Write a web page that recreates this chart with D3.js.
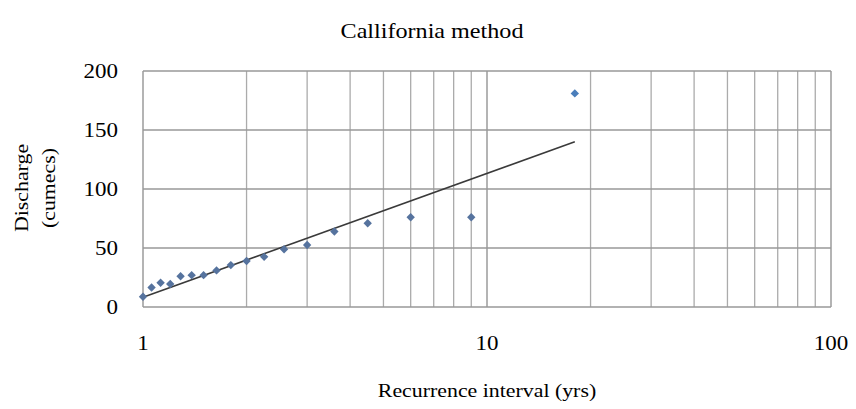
<!DOCTYPE html>
<html>
<head>
<meta charset="utf-8">
<script src="https://cdn.jsdelivr.net/npm/d3@7"></script>
<style>
  body { margin: 0; background: #fff; }
  svg text { font-family: "Liberation Serif", "Times New Roman", serif; fill: #000; }
</style>
</head>
<body>
<svg id="chart" width="856" height="409"></svg>
<script>
// recurrence interval T = n/m (California method), n = 18
const recurrence = [18, 9, 6, 4.5, 3.6, 3, 2.571, 2.25, 2, 1.8, 1.636, 1.5, 1.385, 1.286, 1.2, 1.125, 1.059, 1];
const discharge  = [181, 76, 76, 71, 64, 52.5, 49, 42.5, 39, 35.5, 31, 27, 27, 26, 19.5, 20.5, 16.5, 8.7];

// log trendline end points
const trendX = [1, 18];
const trendY = [8.2, 140];

const xTicks = [1, 10, 100];
const yTicks = [0, 50, 100, 150, 200];

const svg = d3.select("#chart");
const plotLeft = 143, plotRight = 831, plotTop = 71, plotBottom = 307;

const x = d3.scaleLog().domain([1, 100]).range([plotLeft, plotRight]);
const y = d3.scaleLinear().domain([0, 200]).range([plotBottom, plotTop]);

// stretched serif text, like the original export
function label(txt, px, py, size, anchor, rotate) {
	const t = svg.append("text")
		.attr("transform", "translate(" + px + "," + py + ")" + (rotate ? " rotate(" + rotate + ")" : "") + " scale(1.15,1)")
		.attr("text-anchor", anchor)
		.attr("font-size", size)
		.text(txt);
	return t;
}

// vertical grid (log minor ticks)
svg.append("g").selectAll("line")
	.data(x.ticks())
	.enter().append("line")
	.attr("x1", d => x(d)).attr("x2", d => x(d))
	.attr("y1", plotTop).attr("y2", plotBottom)
	.attr("stroke", d => xTicks.includes(d) ? "#8c8c8c" : "#ababab")
	.attr("stroke-width", 1.3);

// horizontal grid
svg.append("g").selectAll("line")
	.data(yTicks)
	.enter().append("line")
	.attr("x1", plotLeft).attr("x2", plotRight)
	.attr("y1", d => y(d)).attr("y2", d => y(d))
	.attr("stroke", "#999")
	.attr("stroke-width", 1.3);

// trendline
svg.append("line")
	.attr("x1", x(trendX[0])).attr("y1", y(trendY[0]))
	.attr("x2", x(trendX[1])).attr("y2", y(trendY[1]))
	.attr("stroke", "#3a3a3a")
	.attr("stroke-width", 1.6);

// points
const pts = recurrence.map((r, i) => ({r: r, q: discharge[i]}));
svg.append("g").selectAll("path")
	.data(pts)
	.enter().append("path")
	.attr("d", d3.symbol().type(d3.symbolDiamond2).size(45))
	.attr("transform", d => "translate(" + x(d.r) + "," + y(d.q) + ")")
	.attr("fill", d => d.r > 10 ? "#4a7ebb" : "#56739e");

// tick labels
yTicks.forEach(d => label(d, 118, y(d) + 7, 20, "end"));
xTicks.forEach(d => label(d, x(d), 350, 20, "middle"));

// titles
label("Callifornia method", 432, 38, 21, "middle");
label("Recurrence interval (yrs)", 487, 397, 19, "middle");
label("Discharge", 28, 188, 19, "middle", -90);
label("(cumecs)", 55, 188, 19, "middle", -90);
</script>
</body>
</html>
